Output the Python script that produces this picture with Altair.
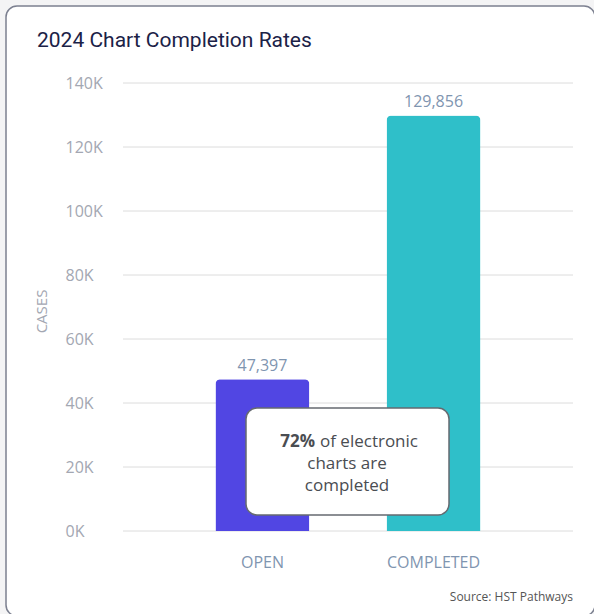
import altair as alt
import pandas as pd

# Chart data
statuses = ["OPEN", "COMPLETED"]
cases = [47397, 129856]
bar_colors = ["#5146e3", "#2fbfc9"]
value_labels = ["47,397", "129,856"]

y_ticks = [0, 20000, 40000, 60000, 80000, 100000, 120000, 140000]

chart_title = "2024 Chart Completion Rates"
callout_pct = "72%"
callout_lines = ["of electronic", "charts are", "completed"]
source_note = "Source: HST Pathways"

FONT = "Open Sans"
TITLE_FONT = "Roboto"

df = pd.DataFrame({"status": statuses, "cases": cases, "label": value_labels, "color": bar_colors})
grid_df = pd.DataFrame({"tick": y_ticks})
one = pd.DataFrame({"k": [0]})

y_scale = alt.Scale(domain=[0, 140000], nice=False)

x_enc = alt.X(
    "status:N",
    sort=statuses,
    scale=alt.Scale(paddingInner=0.45, paddingOuter=0.54),
    axis=alt.Axis(
        title=None, labelAngle=0, labelFont=FONT, labelFontSize=16,
        labelColor="#7f95b0", labelPadding=23, ticks=False, domain=False, grid=False,
        zindex=1,
    ),
)
y_enc = alt.Y(
    "cases:Q",
    scale=y_scale,
    axis=alt.Axis(
        title="CASES", titleFont=FONT, titleFontSize=15, titleFontWeight="normal",
        titleColor="#a3a7b2", titleX=-74, titleY=228, titleAngle=270,
        values=y_ticks, labelExpr="format(datum.value / 1000, 'd') + 'K'",
        labelFont=FONT, labelFontSize=16, labelColor="#a3a7b2", labelPadding=58,
        labelAlign="left", ticks=False, domain=False, grid=False, zindex=1,
    ),
)

# White card behind the whole chart
card = alt.Chart(one).mark_rect(
    fill="white", stroke="#7c8090", strokeWidth=1.5, cornerRadius=11
).encode(
    x=alt.value(-117), x2=alt.value(472), y=alt.value(-77), y2=alt.value(533)
)

title = alt.Chart(one).mark_text(
    align="left", baseline="alphabetic", font=TITLE_FONT, fontSize=21, color="#1b2247"
).encode(x=alt.value(-86), y=alt.value(-36), text=alt.value(chart_title))

# Horizontal gridlines drawn above the card, below the bars
grid = alt.Chart(grid_df).mark_rule(color="#dcdcdc", strokeWidth=1).encode(
    y=alt.Y("tick:Q", scale=y_scale), x=alt.value(0), x2=alt.value(450)
)

bars = alt.Chart(df).mark_bar(
    cornerRadiusTopLeft=5, cornerRadiusTopRight=5, size=94
).encode(
    x=x_enc, y=y_enc, color=alt.Color("color:N", scale=None, legend=None)
)

labels = alt.Chart(df).mark_text(
    baseline="bottom", dy=-5, font=FONT, fontSize=16, color="#7f95b0"
).encode(x=alt.X("status:N", sort=statuses), y="cases:Q", text="label:N")

# Callout box
box = alt.Chart(one).mark_rect(
    fill="white", stroke="#666a70", strokeWidth=1.5, cornerRadius=11
).encode(
    x=alt.value(123), x2=alt.value(326), y=alt.value(325), y2=alt.value(432)
)

pct_text = alt.Chart(one).mark_text(
    align="right", baseline="middle", font=FONT, fontSize=17, fontWeight="bold", color="#4a4d52"
).encode(x=alt.value(192), y=alt.value(359), text=alt.value(callout_pct))

line1 = alt.Chart(one).mark_text(
    align="left", baseline="middle", font=FONT, fontSize=17, color="#4a4d52"
).encode(x=alt.value(197), y=alt.value(359), text=alt.value(callout_lines[0]))

rest = alt.Chart(one).mark_text(
    align="center", baseline="middle", font=FONT, fontSize=17, color="#4a4d52", lineHeight=22
).encode(x=alt.value(224), y=alt.value(381), text=alt.value(callout_lines[1:]))

source = alt.Chart(one).mark_text(
    align="right", baseline="middle", font=FONT, fontSize=12, color="#555555"
).encode(x=alt.value(450), y=alt.value(514), text=alt.value(source_note))

chart = alt.layer(card, title, grid, bars, labels, box, pct_text, line1, rest, source).properties(
    width=450,
    height=448,
    background="#f4f4f5",
    padding={"left": 123, "top": 83, "right": 21, "bottom": 83},
    autosize=alt.AutoSizeParams(type="none"),
).configure_view(stroke=None)

chart.save("out.html", embed_options={"renderer": "svg", "actions": False})
